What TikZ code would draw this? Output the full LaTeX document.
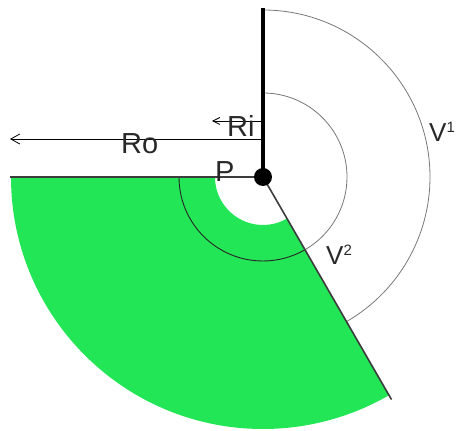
\documentclass[tikz,border=0pt]{standalone}
\usepackage{fontspec}
\setmainfont{Liberation Sans}
\usetikzlibrary{arrows.meta,calc}
\definecolor{sectgreen}{RGB}{34,230,86}
\definecolor{arcgray}{RGB}{120,120,120}
\definecolor{edgegray}{RGB}{60,60,60}
\definecolor{txt}{RGB}{40,40,40}
\tikzset{
  arcline/.style={arcgray,line width=0.8pt},
  darkarc/.style={black!85,line width=0.9pt},
  edgeline/.style={edgegray,line width=1.6pt},
  radline/.style={black,line width=0.8pt},
  lbl/.style={inner sep=0pt,anchor=base west,text=txt,font=\fontsize{29}{29}\selectfont},
  slbl/.style={inner sep=0pt,anchor=base west,text=txt,font=\fontsize{26}{26}\selectfont},
}
\begin{document}
\begin{tikzpicture}[x=1pt,y=1pt]
\useasboundingbox (0,0) rectangle (456,431);
\fill[white] (0,0) rectangle (456,431);
\coordinate (P) at (263,254);
\coordinate (top) at (263,423);
\coordinate (roend) at (10,292);
\coordinate (rostart) at (263,292);
\coordinate (riend) at (212,310);
\coordinate (ristart) at (263,310);
% green annular sector
\fill[sectgreen] ($(P)+(180:252)$) arc[start angle=180,end angle=300,radius=252]
  -- ($(P)+(300:48)$) arc[start angle=300,end angle=180,radius=48] -- cycle;
% arcs
\draw[arcline] ($(P)+(90:167)$) arc[start angle=90,end angle=-60,radius=167];
\draw[arcline] ($(P)+(90:84)$) arc[start angle=90,end angle=-60,radius=84];
\draw[darkarc] ($(P)+(180:84)$) arc[start angle=180,end angle=300,radius=84];
% edges
\coordinate (leftedge) at ($(P)+(180:253)$);
\coordinate (slant) at ($(P)+(300:257)$);
\draw[edgeline] (P) -- (leftedge);
\draw[edgeline] (P) -- (slant);
\draw[black,line width=3.2pt] (P) -- (top);
% radius arrows
\draw[radline,-{Straight Barb[length=9pt,width=10pt]}] (rostart) -- (roend);
\draw[radline,-{Straight Barb[length=7pt,width=7pt]}] (ristart) -- (riend);
% dot
\node[circle,fill=black,inner sep=0pt,minimum size=18pt] (Pdot) at (P) {};
% labels
\node[lbl] (Ro) at (121,277) {Ro};
\node[lbl] (Ri) at (227,294) {Ri};
\node[lbl] (Plbl) at (215,249) {P};
\node[slbl] (V1) at (429,289) {V\raisebox{9pt}{\fontsize{15}{15}\selectfont 1}};
\node[slbl] (V2) at (326,166) {V\raisebox{9pt}{\fontsize{15}{15}\selectfont 2}};
\end{tikzpicture}
\end{document}
